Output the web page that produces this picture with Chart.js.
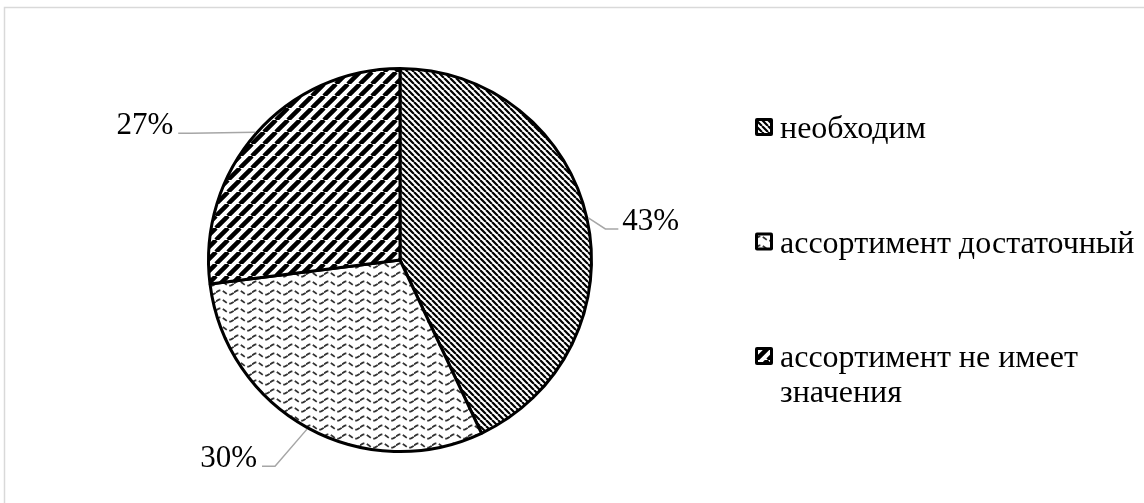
<!DOCTYPE html>
<html>
<head>
<meta charset="utf-8">
<script src="https://cdn.jsdelivr.net/npm/chart.js@4"></script>
<style>
  html, body { margin: 0; padding: 0; background: #fff; }
  #wrap { width: 1144px; height: 503px; position: relative; }
</style>
</head>
<body>
<div id="wrap"><canvas id="myChart"></canvas></div>
<script>
const categories = ["необходим", "ассортимент достаточный", "ассортимент не имеет значения"];
const shares = [43, 30, 27];

const FONT = "'Liberation Serif', 'Times New Roman', serif";

// hatch tiles: thin "\" stripes, waves, wide "/" stripes
const makeStripes = (size, width, up) => {
  const c = document.createElement("canvas");
  c.width = size;
  c.height = size;
  const g = c.getContext("2d");
  g.fillStyle = "#fff";
  g.fillRect(0, 0, size, size);
  g.strokeStyle = "#000";
  g.lineWidth = width;
  g.beginPath();
  for (const k of [-size, 0, size]) {
    if (up) {
      g.moveTo(k, size);
      g.lineTo(k + size, 0);
    } else {
      g.moveTo(k, 0);
      g.lineTo(k + size, size);
    }
  }
  g.stroke();
  return g.createPattern(c, "repeat");
};

const makeWaves = () => {
  const w = 18, h = 9;
  const c = document.createElement("canvas");
  c.width = w;
  c.height = h;
  const g = c.getContext("2d");
  g.fillStyle = "#fff";
  g.fillRect(0, 0, w, h);
  g.strokeStyle = "#333";
  g.lineWidth = 1.8;
  g.setLineDash([5, 2.5]);
  g.beginPath();
  for (let x = 0; x <= w; x += 0.5) {
    const y = 4.5 - 2.2 * Math.sin((2 * Math.PI * x) / w);
    if (x === 0) g.moveTo(x, y);
    else g.lineTo(x, y);
  }
  g.stroke();
  return document.createElement("canvas").getContext("2d").createPattern(c, "repeat");
};

const fills = [makeStripes(6, 2.2, false), makeWaves(), makeStripes(12, 4.5, true)];

const frame = {
  id: "frame",
  beforeDraw(chart) {
    const ctx = chart.ctx;
    ctx.save();
    ctx.fillStyle = "#fff";
    ctx.fillRect(0, 0, chart.width, chart.height);
    ctx.strokeStyle = "#d9d9d9";
    ctx.lineWidth = 1.5;
    ctx.strokeRect(4.5, 7.5, chart.width + 20, chart.height + 20);
    ctx.restore();
  },
};

// percent labels with leader lines, outside the pie
const sliceLabels = {
  id: "sliceLabels",
  afterDatasetsDraw(chart, args, opts) {
    const ctx = chart.ctx;
    const data = chart.data.datasets[0].data;
    const total = data.reduce((a, b) => a + b, 0);
    ctx.save();
    ctx.font = opts.font;
    ctx.textBaseline = "alphabetic";
    chart.getDatasetMeta(0).data.forEach((arc, i) => {
      const p = arc.getProps(["x", "y", "startAngle", "endAngle", "outerRadius"], true);
      const mid = (p.startAngle + p.endAngle) / 2;
      const r = p.outerRadius + 1.5;
      const ax = p.x + Math.cos(mid) * r;
      const ay = p.y + Math.sin(mid) * r;
      const ex = ax + opts.offsets[i][0];
      const ey = ay + opts.offsets[i][1];
      const right = ex > ax;
      const bx = right ? ex - 13 : ex + 13;
      ctx.strokeStyle = "#a6a6a6";
      ctx.lineWidth = 1.5;
      ctx.beginPath();
      ctx.moveTo(ax, ay);
      ctx.lineTo(bx, ey);
      ctx.lineTo(ex, ey);
      ctx.stroke();
      ctx.fillStyle = "#000";
      ctx.textAlign = right ? "left" : "right";
      const txt = Math.round((data[i] / total) * 100) + "%";
      ctx.fillText(txt, right ? ex + 4 : ex - 5, ey + 1);
    });
    ctx.restore();
  },
};

const sideLegend = {
  id: "sideLegend",
  afterDraw(chart, args, opts) {
    const ctx = chart.ctx;
    ctx.save();
    ctx.font = opts.font;
    ctx.textAlign = "left";
    ctx.textBaseline = "alphabetic";
    chart.data.labels.forEach((label, i) => {
      const base = opts.top + i * opts.step;
      // swatch
      const sx = opts.x, sy = base - 20, s = 18;
      ctx.fillStyle = "#000";
      ctx.beginPath();
      ctx.roundRect(sx, sy, s, s, 2);
      ctx.fill();
      ctx.fillStyle = chart.data.datasets[0].backgroundColor[i];
      ctx.fillRect(sx + 3, sy + 3, s - 6, s - 6);
      // wrapped text
      const words = label.split(" ");
      let line = "";
      let y = base;
      words.forEach((w) => {
        const test = line ? line + " " + w : w;
        if (line && ctx.measureText(test).width > opts.maxWidth) {
          ctx.fillStyle = "#000";
          ctx.fillText(line, opts.textX, y);
          line = w;
          y += opts.lineHeight;
        } else {
          line = test;
        }
      });
      ctx.fillStyle = "#000";
      ctx.fillText(line, opts.textX, y);
    });
    ctx.restore();
  },
};

const initChartjs = () => {
  const ctx = document.querySelector("#myChart");
  if (!ctx) return;
  new Chart(ctx, {
    type: "pie",
    data: {
      labels: categories,
      datasets: [
        {
          data: shares,
          backgroundColor: fills,
          borderColor: "#000",
          borderWidth: 3,
          hoverOffset: 0,
          offset: 0,
        },
      ],
    },
    options: {
      responsive: true,
      maintainAspectRatio: false,
      animation: false,
      events: [],
      layout: { padding: { left: 207, right: 551, top: 67, bottom: 50 } },
      plugins: {
        legend: { display: false },
        tooltip: { enabled: false },
        sliceLabels: {
          font: "31px " + FONT,
          offsets: [[30, 11], [-45, 37], [-77, 1]],
        },
        sideLegend: {
          font: "32px " + FONT,
          x: 755,
          textX: 780,
          top: 138,
          step: 114.5,
          lineHeight: 35,
          maxWidth: 375,
        },
      },
    },
    plugins: [frame, sliceLabels, sideLegend],
  });
};

initChartjs();
</script>
</body>
</html>
